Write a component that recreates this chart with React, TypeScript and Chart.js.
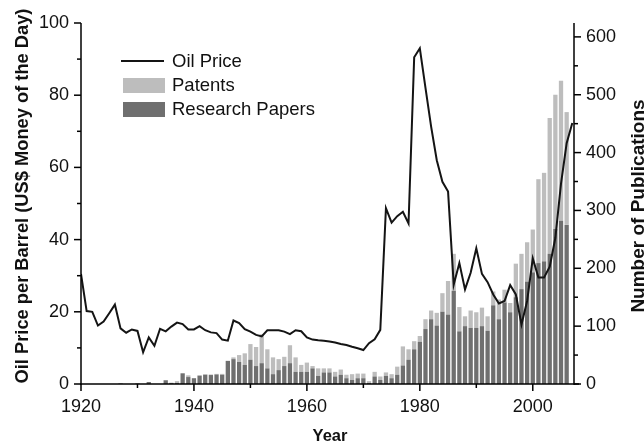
import React, { useEffect, useRef } from "react";
import { Chart, registerables } from "chart.js";

Chart.register(...registerables);

// ---- Data ----
const firstYear = 1920;

// Oil price per barrel, 1920 .. 2007
const oilPrice = [
  30.5, 20.2, 20.0, 16.2, 17.3, 19.6, 22.0, 15.4, 14.2, 15.1,
  14.7, 8.8, 12.9, 10.6, 15.3, 14.6, 15.9, 17.0, 16.6, 15.1,
  15.1, 16.0, 14.9, 14.3, 14.1, 12.3, 12.0, 17.6, 16.9, 15.2,
  14.5, 13.6, 13.2, 14.9, 14.9, 14.9, 14.5, 13.8, 14.9, 14.6,
  12.9, 12.3, 12.1, 12.0, 11.8, 11.5, 11.1, 10.8, 10.3, 9.9,
  9.4, 11.3, 12.4, 15.0, 48.7, 44.7, 46.5, 47.7, 44.5, 90.5,
  93.0, 82.0, 71.3, 62.0, 56.0, 53.3, 27.5, 33.5, 26.2, 30.8,
  37.6, 30.5, 28.2, 24.8, 22.3, 23.0, 27.4, 24.8, 16.5, 23.0,
  34.8, 29.5, 29.5, 32.5, 40.5, 55.5, 66.7, 72.3,
];

// Research papers per year, 1920 .. 2006
const researchPapers = [
  0, 0, 0, 0, 0, 0, 0, 1, 0, 0,
  1, 0, 3.5, 0, 0, 6.5, 2, 2, 18.5, 12,
  10, 14, 16, 15.5, 16.5, 16, 40, 43, 38, 33,
  42, 31, 36, 27, 17, 24, 31, 36, 21, 21,
  21, 27, 14, 20, 20, 13, 16, 10, 7, 10,
  10, 2, 13, 7, 14, 10, 16, 32, 42, 60,
  73, 95, 112, 101, 125, 120, 161, 91, 100, 97,
  97, 100, 92, 136, 112, 141, 124, 150, 164, 177,
  193, 209, 212, 225, 268, 282, 275,
];

// Patents per year (stacked on top of research papers), 1920 .. 2006
const patents = [
  0, 0, 0, 0, 0, 0, 0, 0, 0, 0,
  0, 0, 0, 0, 0, 0, 0, 3, 0, 3,
  0, 1.5, 1, 1, 1, 1.5, 0, 3, 12, 20,
  27, 33, 50, 33, 29, 19, 16, 31, 25, 12,
  16, 4, 13, 7, 7, 8, 9, 6, 10, 8,
  8, 3, 8, 6, 6, 7, 14, 33, 18, 14,
  10, 17, 15, 22, 32, 58, 64, 42, 17, 30,
  27, 32, 25, 24, 34, 22, 16, 58, 61, 68,
  74, 145, 153, 235, 232, 242, 195,
];

const xMajorTicks = [1920, 1940, 1960, 1980, 2000];
const xMinorTicks = [1930, 1950, 1970, 1990];
const leftMajorTicks = [0, 20, 40, 60, 80, 100];
const leftMinorTicks = [10, 30, 50, 70, 90];
const rightMajorTicks = [0, 100, 200, 300, 400, 500, 600];
const rightMinorTicks = [50, 150, 250, 350, 450, 550];

const FONT = "'Liberation Sans', Arial, Helvetica, sans-serif";
const LINE_COLOR = "#141414";
const PATENT_COLOR = "#bdbdbd";
const PAPER_COLOR = "#6f6f6f";

const decorPlugin = {
  id: "decor",
  afterDraw(chart: any) {
    const ctx = chart.ctx as CanvasRenderingContext2D;
    const area = chart.chartArea;
    const xs = chart.scales.x;
    const yl = chart.scales.y;
    const yr = chart.scales.y2;
    ctx.save();
    ctx.strokeStyle = "#000";
    ctx.lineWidth = 1.5;
    const seg = (x1: number, y1: number, x2: number, y2: number) => {
      ctx.beginPath();
      ctx.moveTo(x1, y1);
      ctx.lineTo(x2, y2);
      ctx.stroke();
    };
    // axis lines
    seg(area.left, area.top, area.left, area.bottom + 0.75);
    seg(area.right, area.top, area.right, area.bottom + 0.75);
    seg(area.left - 0.75, area.bottom, area.right + 5, area.bottom);
    // ticks
    for (const v of leftMajorTicks) { const p = yl.getPixelForValue(v); seg(area.left - 7, p, area.left, p); }
    for (const v of leftMinorTicks) { const p = yl.getPixelForValue(v); seg(area.left - 4, p, area.left, p); }
    for (const v of rightMajorTicks) { const p = yr.getPixelForValue(v); seg(area.right, p, area.right + 7, p); }
    for (const v of rightMinorTicks) { const p = yr.getPixelForValue(v); seg(area.right, p, area.right + 4, p); }
    for (const v of xMajorTicks) { const p = xs.getPixelForValue(v); seg(p, area.bottom, p, area.bottom + 7); }
    for (const v of xMinorTicks) { const p = xs.getPixelForValue(v); seg(p, area.bottom, p, area.bottom + 4); }

    // axis titles
    ctx.fillStyle = "#111";
    ctx.textAlign = "center";
    ctx.textBaseline = "alphabetic";
    ctx.font = `bold 18.3px ${FONT}`;
    ctx.save();
    ctx.translate(28, 196);
    ctx.rotate(-Math.PI / 2);
    ctx.fillText("Oil Price per Barrel (US$ Money of the Day)", 0, 0);
    ctx.restore();

    ctx.font = `bold 19px ${FONT}`;
    ctx.save();
    ctx.translate(643.5, 206);
    ctx.rotate(-Math.PI / 2);
    ctx.fillText("Number of Publications", 0, 0);
    ctx.restore();

    ctx.font = `bold 16.5px ${FONT}`;
    ctx.fillText("Year", 330, 441);

    // legend
    const ds = chart.data.datasets;
    ctx.font = `18.5px ${FONT}`;
    ctx.textAlign = "left";
    ctx.textBaseline = "middle";
    ctx.strokeStyle = ds[0].borderColor;
    ctx.lineWidth = 2;
    seg(121, 61, 164, 61);
    ctx.fillText(ds[0].label, 172, 62);
    ctx.fillStyle = ds[1].backgroundColor;
    ctx.fillRect(123, 78, 42, 15);
    ctx.fillStyle = "#111";
    ctx.fillText(ds[1].label, 172, 86);
    ctx.fillStyle = ds[2].backgroundColor;
    ctx.fillRect(123, 102, 42, 15);
    ctx.fillStyle = "#111";
    ctx.fillText(ds[2].label, 172, 110);
    ctx.restore();
  },
};

export default function App() {
  const canvasRef = useRef<HTMLCanvasElement | null>(null);

  useEffect(() => {
    if (!canvasRef.current) return;
    const oilPoints = oilPrice.map((v, i) => ({ x: firstYear + i, y: v }));
    const paperPoints = researchPapers.map((v, i) => ({ x: firstYear + i, y: v }));
    const patentPoints = patents.map((v, i) => ({ x: firstYear + i, y: v }));

    const chart = new Chart(canvasRef.current, {
      type: "bar",
      data: {
        datasets: [
          {
            type: "line",
            label: "Oil Price",
            data: oilPoints,
            xAxisID: "x",
            yAxisID: "y",
            borderColor: LINE_COLOR,
            backgroundColor: LINE_COLOR,
            borderWidth: 2,
            pointRadius: 0,
            tension: 0,
            order: 0,
          } as any,
          {
            type: "bar",
            label: "Patents",
            data: patentPoints,
            xAxisID: "x",
            yAxisID: "y2",
            backgroundColor: PATENT_COLOR,
            borderWidth: 0,
            grouped: false,
            stack: "pubs",
            barPercentage: 0.76,
            categoryPercentage: 1,
            order: 2,
          } as any,
          {
            type: "bar",
            label: "Research Papers",
            data: paperPoints,
            xAxisID: "x",
            yAxisID: "y2",
            backgroundColor: PAPER_COLOR,
            borderWidth: 0,
            grouped: false,
            stack: "pubs",
            barPercentage: 0.76,
            categoryPercentage: 1,
            order: 1,
          } as any,
        ],
      },
      options: {
        responsive: false,
        animation: false,
        layout: { padding: { top: 23, left: 0, right: 0, bottom: 0 } },
        plugins: {
          legend: { display: false },
          tooltip: { enabled: false },
        },
        scales: {
          x: {
            type: "linear",
            min: 1920,
            max: 2007.3,
            offset: false,
            grid: { display: false, drawTicks: false },
            border: { display: false },
            afterFit: (s: any) => { s.height = 60; },
            ticks: {
              stepSize: 20,
              includeBounds: false,
              padding: 12,
              color: "#111",
              font: { family: FONT, size: 18 },
              maxRotation: 0,
              autoSkip: false,
              callback: (v: any) => (xMajorTicks.includes(Number(v)) ? String(v) : ""),
            },
          },
          y: {
            type: "linear",
            position: "left",
            min: 0,
            max: 100,
            grid: { display: false, drawTicks: false },
            border: { display: false },
            afterFit: (s: any) => { s.width = 81; },
            ticks: {
              stepSize: 20,
              padding: 12,
              color: "#111",
              font: { family: FONT, size: 18 },
              callback: (v: any) => String(v),
            },
          },
          y2: {
            type: "linear",
            position: "right",
            min: 0,
            max: 624,
            stacked: true,
            grid: { display: false, drawTicks: false },
            border: { display: false },
            afterFit: (s: any) => { s.width = 70; },
            ticks: {
              stepSize: 100,
              includeBounds: false,
              padding: 12,
              color: "#111",
              font: { family: FONT, size: 18 },
              callback: (v: any) => (rightMajorTicks.includes(Number(v)) ? String(v) : ""),
            },
          },
        },
      },
      plugins: [decorPlugin],
    });
    return () => chart.destroy();
  }, []);

  return (
    <div style={{ position: "absolute", left: 0, top: 0, width: 644, height: 444, background: "#fff" }}>
      <canvas ref={canvasRef} width={644} height={444} style={{ display: "block" }} />
    </div>
  );
}
